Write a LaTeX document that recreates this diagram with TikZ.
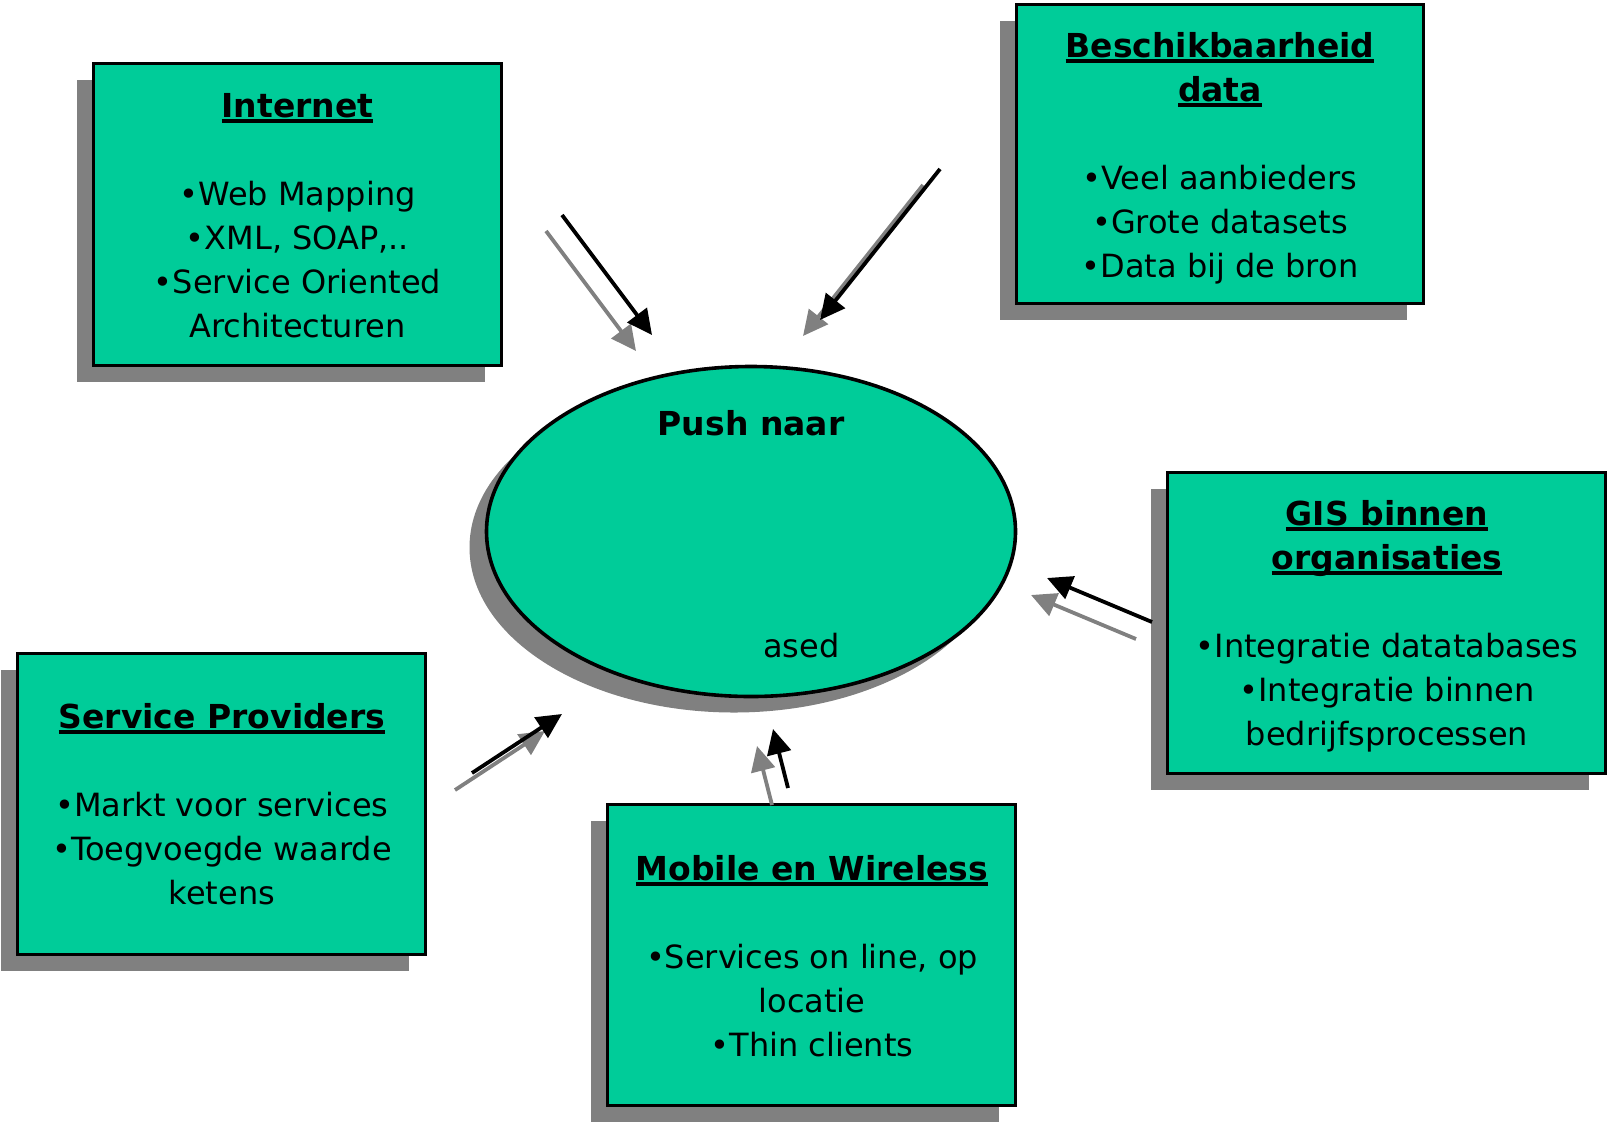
\documentclass[tikz,border=0pt]{standalone}
\usepackage{fontspec}
\setmainfont{DejaVu Sans}
\usetikzlibrary{arrows.meta,shadows,shapes.geometric}
\definecolor{boxgreen}{HTML}{00CC99}
\definecolor{shadowgray}{HTML}{808080}
\newsavebox\ttlbox
\newcommand{\ttl}[1]{\sbox\ttlbox{\fontsize{16.5}{22}\selectfont\bfseries #1}\rlap{\rule[-3pt]{\wd\ttlbox}{2pt}}\usebox\ttlbox}
\tikzset{
  shad/.style={general shadow={fill=shadowgray, shadow xshift=-8.5pt, shadow yshift=-8pt}},
  gbox/.style={shad, draw=black, line width=1.8pt, fill=boxgreen, rectangle, inner sep=0pt},
  gell/.style={shad, draw=black, line width=1.8pt, fill=boxgreen, ellipse, inner sep=0pt},
  txt/.style={font=\fontsize{16}{22}\selectfont, align=center, inner sep=0pt, anchor=north, text=black},
  barr/.style={-{Triangle[length=12.5pt,width=12pt]}, line width=1.9pt, draw=black},
  garr/.style={-{Triangle[length=12.5pt,width=12pt]}, line width=1.9pt, draw=shadowgray},
}
\begin{document}
\begin{tikzpicture}[x=0.5pt,y=-0.5pt]
\useasboundingbox (0,0) rectangle (1609,1125);
% boxes
\node[gbox, minimum width=204pt, minimum height=151pt] (internet) at (297.5,214.5) {};
\node[gbox, minimum width=203.5pt, minimum height=149.5pt] (besch) at (1220,154) {};
\node[gbox, minimum width=219pt, minimum height=150.5pt] (gis) at (1386.5,623) {};
\node[gbox, minimum width=204pt, minimum height=150.5pt] (sp) at (221.5,804) {};
\node[gbox, minimum width=204pt, minimum height=150.5pt] (mobile) at (811.5,955) {};
\node[gell, minimum width=264.5pt, minimum height=165pt] (push) at (751,531.5) {};
% texts
\node[txt] (internettxt) at (297.5,85) {\rule{0pt}{16pt}\ttl{Internet}\\[22pt]•Web Mapping\\•XML, SOAP,..\\•Service Oriented\\Architecturen};
\node[txt] (beschtxt) at (1220,25) {\rule{0pt}{16pt}\ttl{Beschikbaarheid}\\\ttl{data}\\[22pt]•Veel aanbieders\\•Grote datasets\\•Data bij de bron};
\node[txt] (gistxt) at (1387,493) {\rule{0pt}{16pt}\ttl{GIS binnen}\\\ttl{organisaties}\\[22pt]•Integratie datatabases\\•Integratie binnen\\bedrijfsprocessen};
\node[txt] (sptxt) at (222,696) {\rule{0pt}{16pt}\ttl{Service Providers}\\[22pt]•Markt voor services\\•Toegvoegde waarde\\ketens};
\node[txt] (mobiletxt) at (812,848) {\rule{0pt}{16pt}\ttl{Mobile en Wireless}\\[22pt]•Services on line, op\\locatie\\•Thin clients};
\node[font=\fontsize{16.5}{22}\selectfont\bfseries, anchor=base, inner sep=0pt] (pushtxt) at (751,435) {Push naar};
\node[font=\fontsize{16}{22}\selectfont, anchor=base east, inner sep=0pt] (asedtxt) at (840,657) {ased};
% arrow coordinates
\coordinate (a1s) at (562,215); \coordinate (a1e) at (652,335);
\coordinate (a2s) at (940,169); \coordinate (a2e) at (820,320);
\coordinate (a3s) at (1152,622); \coordinate (a3e) at (1047,578);
\coordinate (a4s) at (472,773); \coordinate (a4e) at (562,714);
\coordinate (a5s) at (788,788); \coordinate (a5e) at (773,729);
% shadow arrows
\draw[garr] ([shift={(-16,16)}]a1s) -- ([shift={(-16,16)}]a1e);
\draw[garr] ([shift={(-17,16)}]a2s) -- ([shift={(-17,16)}]a2e);
\draw[garr] ([shift={(-16,17)}]a3s) -- ([shift={(-16,17)}]a3e);
\draw[garr] ([shift={(-17,17)}]a4s) -- ([shift={(-17,17)}]a4e);
\draw[garr] ([shift={(-16,17)}]a5s) -- ([shift={(-16,17)}]a5e);
% black arrows
\draw[barr] (a1s) -- (a1e);
\draw[barr] (a2s) -- (a2e);
\draw[barr] (a3s) -- (a3e);
\draw[barr] (a4s) -- (a4e);
\draw[barr] (a5s) -- (a5e);
\end{tikzpicture}
\end{document}
